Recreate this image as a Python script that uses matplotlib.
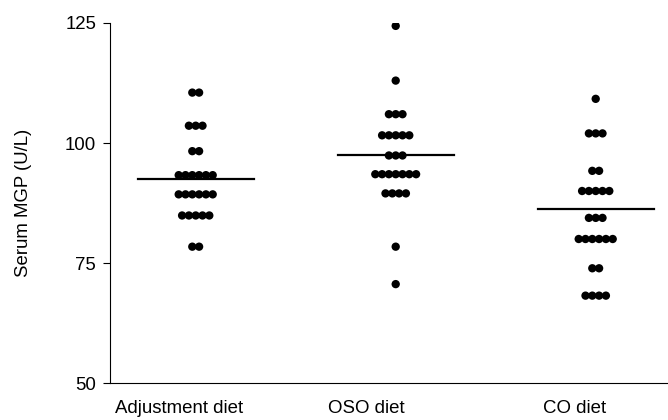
import matplotlib
matplotlib.use("Agg")
import matplotlib.pyplot as plt
from collections import Counter

# ---- data ----
groups = ["Adjustment diet", "OSO diet", "CO diet"]

adjustment = [110.5]*2 + [103.6]*3 + [98.3]*2 + [93.3]*6 + [89.3]*6 + [84.9]*5 + [78.4]*2
oso = [124.4] + [113.0] + [106.0]*3 + [101.6]*5 + [97.4]*3 + [93.5]*7 + [89.5]*4 + [78.4] + [70.6]
co = [109.2] + [102.0]*3 + [94.2]*2 + [90.0]*5 + [84.4]*3 + [80.0]*6 + [73.9]*2 + [68.2]*4

means = [92.5, 97.4, 86.2]

yticks = [50, 75, 100, 125]

# ---- figure ----
plt.rcParams['font.family'] = ['Liberation Sans', 'DejaVu Sans']
fig = plt.figure(figsize=(6.68, 4.20), dpi=100)
ax = fig.add_axes([110/668, 37/420, 1 - 110/668, 360/420])

spacing = 0.034
for gi, vals in enumerate([adjustment, oso, co]):
    xc = gi + 1
    counts = Counter(vals)
    xs, ys = [], []
    for v, n in counts.items():
        for i in range(n):
            xs.append(xc + (i - (n - 1) / 2) * spacing)
            ys.append(v)
    ax.scatter(xs, ys, s=36, color='black', edgecolors='none', zorder=3)
    ax.plot([xc - 0.29, xc + 0.29], [means[gi], means[gi]], color='black', lw=1.6, zorder=2)

ax.set_xlim(1 - 85.7/200, 3 + 72.3/200)
ax.set_ylim(50, 125)
ax.set_yticks(yticks)
ax.set_yticklabels([str(t) for t in yticks], fontsize=13.4)
ax.tick_params(axis='y', direction='out', length=5, width=0.8, pad=5)

label_pos = [1 - 16.7/200, 2 - 29.7/200, 3 - 20.7/200]
ax.set_xticks(label_pos)
ax.set_xticklabels(groups, fontsize=13.4)
ax.tick_params(axis='x', length=0, pad=12)

ax.set_ylabel("Serum MGP (U/L)", fontsize=13.4, labelpad=24)

ax.spines['top'].set_visible(False)
ax.spines['right'].set_visible(False)
for sp in ['left', 'bottom']:
    ax.spines[sp].set_linewidth(0.8)

fig.savefig("out.png", dpi=100)
